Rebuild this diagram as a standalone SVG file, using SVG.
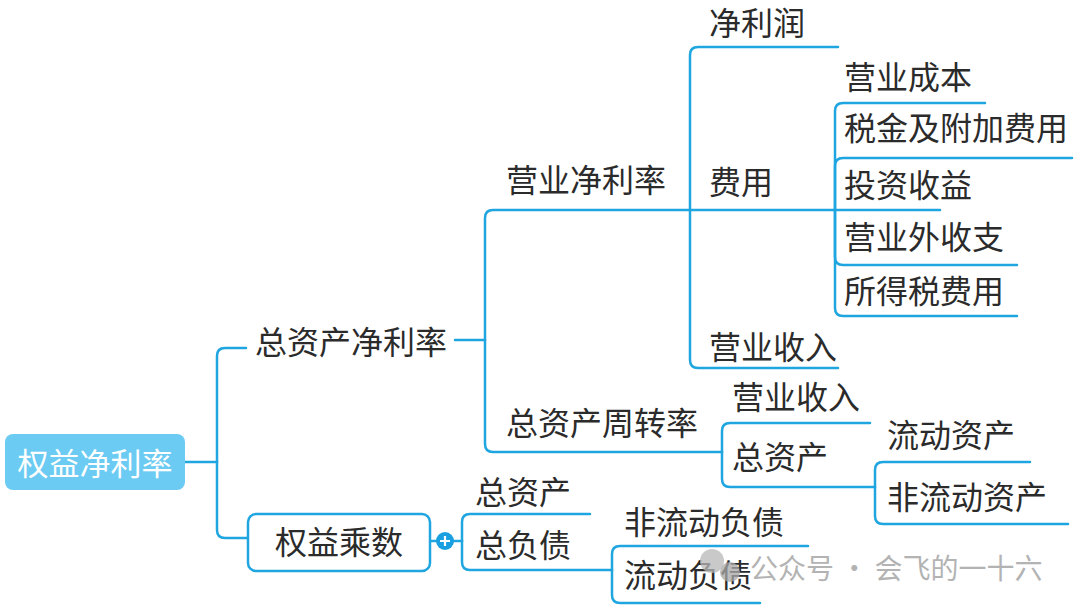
<svg xmlns="http://www.w3.org/2000/svg" width="1080" height="610" viewBox="0 0 1080 610">
<style>
.t{font-family:"Noto Sans CJK SC","Noto Sans",sans-serif;font-size:32px;fill:#2b2b2b;dominant-baseline:central}
.c path{fill:none;stroke:#1fa5e0;stroke-width:2.5;stroke-linecap:round}
.wm{font-family:"Noto Sans CJK SC","Noto Sans",sans-serif;font-size:28px;fill:#9a9a9a;dominant-baseline:central}
</style>
<rect width="1080" height="610" fill="#ffffff"/>
<g class="c" id="connectors">
<path d="M185,462 H217"/>
<path d="M217,462 V356 Q217,348 225,348 H246"/>
<path d="M217,462 V530 Q217,538 225,538 H248"/>
<path d="M455,340 H485"/>
<path d="M485,340 V218 Q485,210 493,210 H690"/>
<path d="M485,340 V444 Q485,452 493,452 H722"/>
<path d="M690,210 V55 Q690,47 698,47 H838"/>
<path d="M690,210 H835"/>
<path d="M690,210 V360 Q690,368 698,368 H838"/>
<path d="M835,210 V111 Q835,103 843,103 H985"/>
<path d="M835,210 V166 Q835,158 843,158 H1072"/>
<path d="M835,210 H940"/>
<path d="M835,210 V257 Q835,265 843,265 H1017"/>
<path d="M835,210 V308 Q835,316 843,316 H1017"/>
<path d="M722,452 V431 Q722,423 730,423 H870"/>
<path d="M722,452 V479 Q722,487 730,487 H875"/>
<path d="M875,487 V470 Q875,462 883,462 H1030"/>
<path d="M875,487 V516 Q875,524 883,524 H1068"/>
<path d="M430,541 H437"/>
<path d="M453,541 H462"/>
<path d="M462,541 V522 Q462,514 470,514 H590"/>
<path d="M462,541 V562 Q462,570 470,570 H612"/>
<path d="M612,570 V554 Q612,546 620,546 H808"/>
<path d="M612,570 V595 Q612,603 620,603 H760"/>
</g>
<g id="root">
<rect x="5" y="434" width="180" height="56" rx="8" fill="#6ccbf2"/>
<text class="t" x="95" y="461" text-anchor="middle" style="fill:#ffffff;font-size:31px">权益净利率</text>
</g>
<g id="n-zzcjll"><text class="t" x="255" y="340">总资产净利率</text></g>
<g id="n-yyjll"><text class="t" x="506" y="178">营业净利率</text></g>
<g id="n-jlr"><text class="t" x="709" y="21">净利润</text></g>
<g id="n-fy"><text class="t" x="709" y="180">费用</text></g>
<g id="n-yysr1"><text class="t" x="709" y="345">营业收入</text></g>
<g id="n-yycb"><text class="t" x="844" y="75">营业成本</text></g>
<g id="n-sjfj"><text class="t" x="844" y="126">税金及附加费用</text></g>
<g id="n-tzsy"><text class="t" x="844" y="183">投资收益</text></g>
<g id="n-yywsz"><text class="t" x="844" y="235">营业外收支</text></g>
<g id="n-sdsfy"><text class="t" x="844" y="289">所得税费用</text></g>
<g id="n-zzczzl"><text class="t" x="506" y="421">总资产周转率</text></g>
<g id="n-yysr2"><text class="t" x="732" y="395">营业收入</text></g>
<g id="n-zzc2"><text class="t" x="732" y="455">总资产</text></g>
<g id="n-ldzc"><text class="t" x="887" y="433">流动资产</text></g>
<g id="n-fldzc"><text class="t" x="887" y="495">非流动资产</text></g>
<g id="n-qycs">
<rect x="248" y="514" width="182" height="57" rx="8" fill="#ffffff" stroke="#1fa5e0" stroke-width="2.5"/>
<text class="t" x="339" y="540" text-anchor="middle">权益乘数</text>
</g>
<g id="plus">
<circle cx="445" cy="541" r="9" fill="#1aa0e0"/>
<path d="M440,541 H450 M445,536 V546" stroke="#ffffff" stroke-width="2.2" fill="none"/>
</g>
<g id="n-zzc3"><text class="t" x="475" y="490">总资产</text></g>
<g id="n-zfz"><text class="t" x="475" y="543">总负债</text></g>
<g id="n-fldfz"><text class="t" x="624" y="520">非流动负债</text></g>
<g id="n-ldfz"><text class="t" x="624" y="573">流动负债</text></g>
<g id="watermark" opacity="0.75">
<circle cx="712" cy="561" r="12" fill="#b8b8b8"/>
<circle cx="730" cy="572" r="10" fill="#a8a8a8"/>
<text class="wm" x="750" y="567">公众号 · 会飞的一十六</text>
</g>
</svg>
